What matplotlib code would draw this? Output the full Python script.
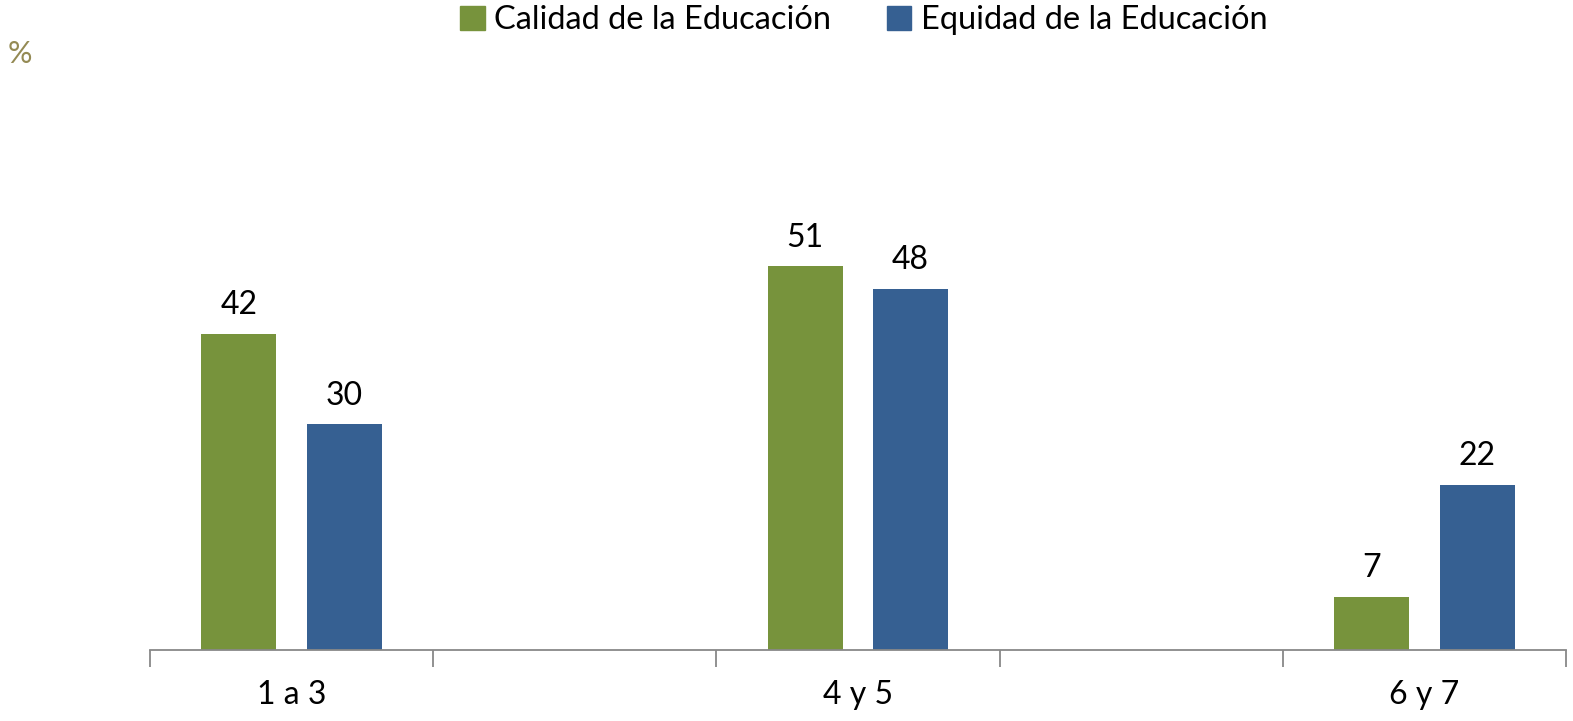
import matplotlib.pyplot as plt
import numpy as np

plt.rcParams['font.family'] = ['Lato', 'DejaVu Sans']

categorias = ['1 a 3', '', '4 y 5', '', '6 y 7']
calidad = [42, None, 51, None, 7]
equidad = [30, None, 48, None, 22]

verde = '#77933C'
azul = '#366092'

fig = plt.figure(figsize=(15.73, 7.21), dpi=100)
ax = fig.add_axes([150 / 1573, 71 / 721, 1416 / 1573, 601.6 / 721])

x = np.arange(len(categorias))
ancho = 0.265
desp = 0.186

for i in range(len(categorias)):
    if calidad[i] is None:
        continue
    b1 = ax.bar(x[i] - desp, calidad[i], ancho, color=verde)
    b2 = ax.bar(x[i] + desp, equidad[i], ancho, color=azul)
    ax.bar_label(b1, padding=10, fontsize=23)
    ax.bar_label(b2, padding=10, fontsize=23)

ax.set_xlim(-0.5, len(categorias) - 0.5)
ax.set_ylim(0, 80)
ax.set_yticks([])
for s in ['top', 'right', 'left']:
    ax.spines[s].set_visible(False)
ax.spines['bottom'].set_color('#888888')
ax.spines['bottom'].set_linewidth(1.3)

ax.set_xticks(np.arange(-0.5, len(categorias), 1.0))
ax.set_xticklabels([])
ax.tick_params(axis='x', length=12, width=1.3, color='#888888', direction='out')
for i, c in enumerate(categorias):
    if c:
        ax.text(x[i], -6.0, c, ha='center', va='center', fontsize=23,
                transform=ax.transData)

# leyenda
h1 = plt.Rectangle((0, 0), 1, 1, color=verde)
h2 = plt.Rectangle((0, 0), 1, 1, color=azul)
fig.legend([h1, h2], ['Calidad de la Educación', 'Equidad de la Educación'],
           loc='center', bbox_to_anchor=(864 / 1573, 1 - 20 / 721), ncol=2,
           frameon=False, fontsize=23.5, handlelength=0.75, handleheight=0.75,
           handletextpad=0.3, columnspacing=1.7, borderaxespad=0)

fig.text(8 / 1573, 1 - 54 / 721, '%', fontsize=22, color='#948A54', va='center')

fig.savefig('out.png', dpi=100)
